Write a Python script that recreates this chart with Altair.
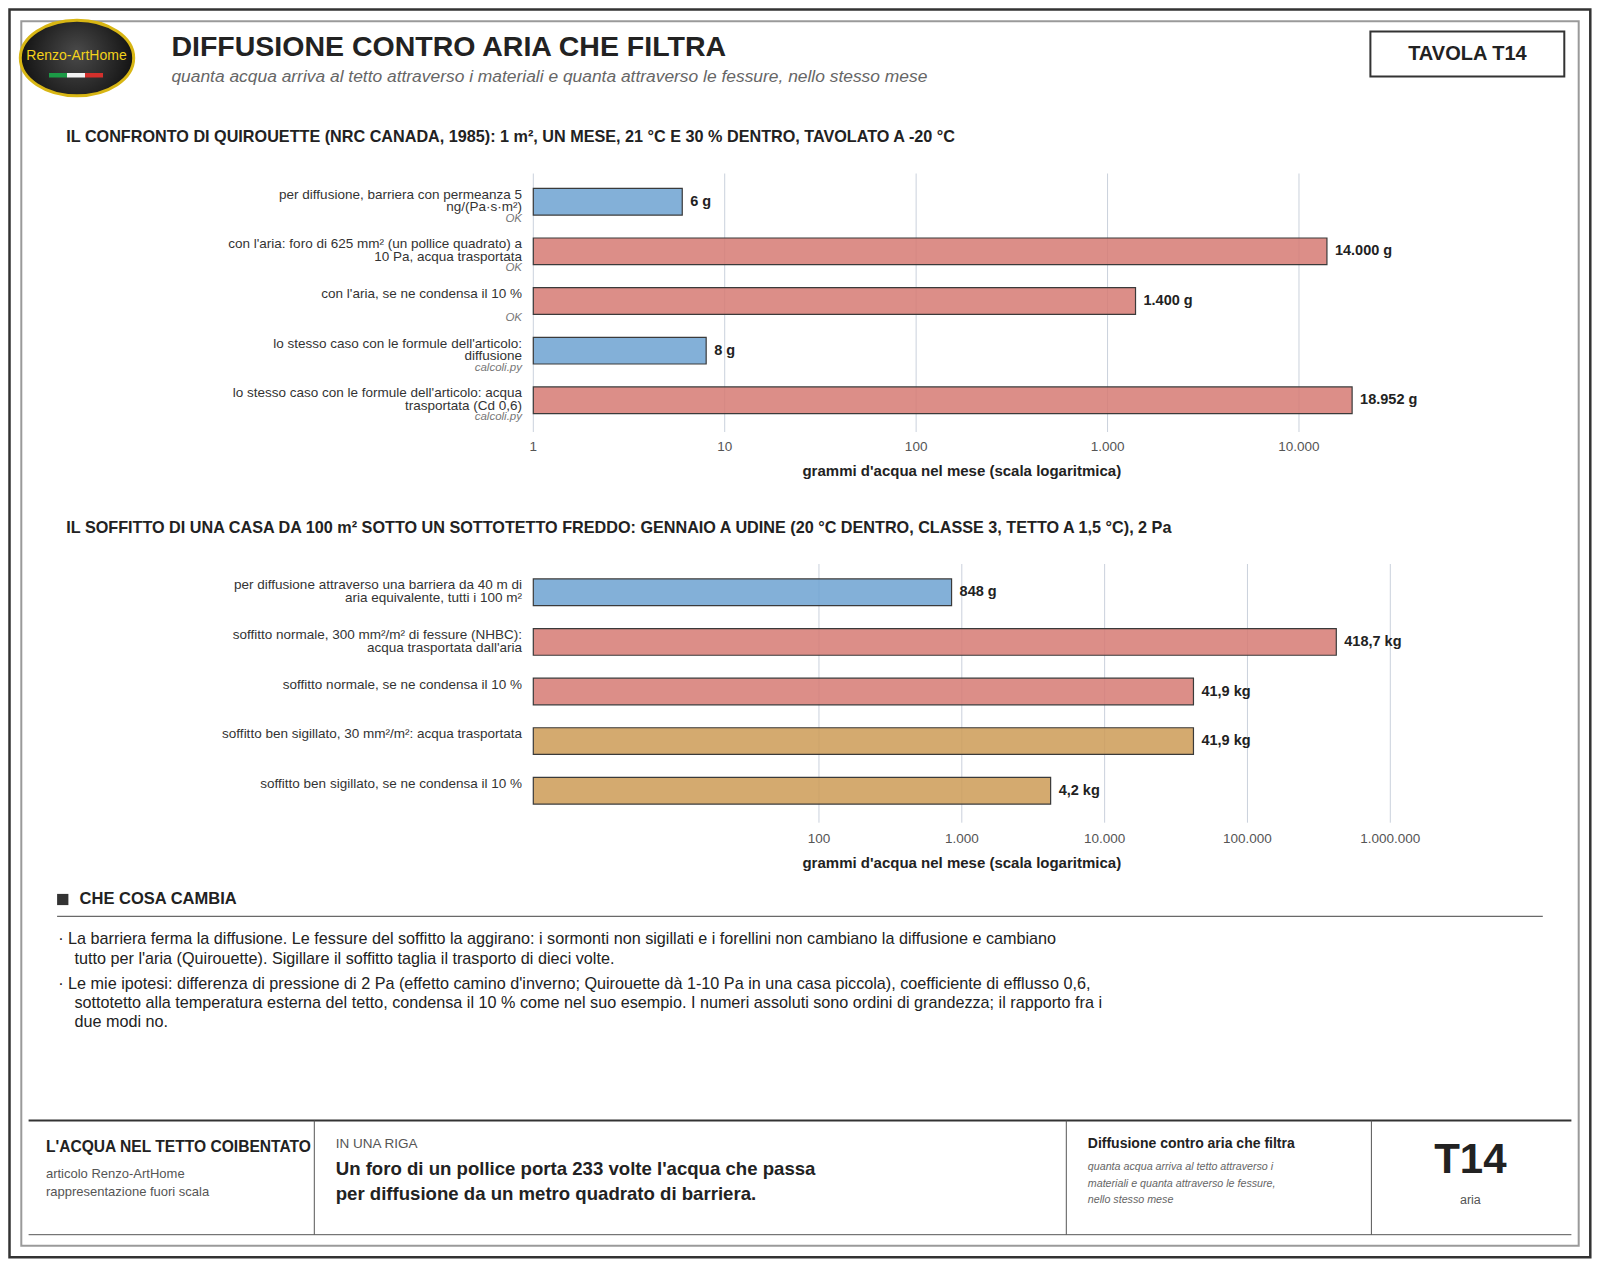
import altair as alt
import pandas as pd

FONT = "Liberation Sans"

# ---------------- data ----------------
p1_ids = ["q1", "q2", "q3", "q4", "q5"]
p1_labels = [
    "per diffusione, barriera con permeanza 5\nng/(Pa·s·m²)",
    "con l'aria: foro di 625 mm² (un pollice quadrato) a\n10 Pa, acqua trasportata",
    "con l'aria, se ne condensa il 10 %",
    "lo stesso caso con le formule dell'articolo:\ndiffusione",
    "lo stesso caso con le formule dell'articolo: acqua\ntrasportata (Cd 0,6)",
]
p1_notes = ["OK", "OK", "OK", "calcoli.py", "calcoli.py"]
p1_values = [6, 14000, 1400, 8, 18952]
p1_value_labels = ["6 g", "14.000 g", "1.400 g", "8 g", "18.952 g"]
p1_kinds = ["diffusione", "aria", "aria", "diffusione", "aria"]
p1_ticks = [1, 10, 100, 1000, 10000]

p2_ids = ["s1", "s2", "s3", "s4", "s5"]
p2_labels = [
    "per diffusione attraverso una barriera da 40 m di\naria equivalente, tutti i 100 m²",
    "soffitto normale, 300 mm²/m² di fessure (NHBC):\nacqua trasportata dall'aria",
    "soffitto normale, se ne condensa il 10 %",
    "soffitto ben sigillato, 30 mm²/m²: acqua trasportata",
    "soffitto ben sigillato, se ne condensa il 10 %",
]
p2_values = [848, 418700, 41870, 41870, 4187]
p2_value_labels = ["848 g", "418,7 kg", "41,9 kg", "41,9 kg", "4,2 kg"]
p2_kinds = ["diffusione", "aria", "aria", "sigillato", "sigillato"]
p2_ticks = [100, 1000, 10000, 100000, 1000000]

kind_domain = ["diffusione", "aria", "sigillato"]
kind_colors = ["#6fa3d2", "#d67b74", "#cd9c57"]

notes_lines = [
    "· La barriera ferma la diffusione. Le fessure del soffitto la aggirano: i sormonti non sigillati e i forellini non cambiano la diffusione e cambiano",
    "tutto per l'aria (Quirouette). Sigillare il soffitto taglia il trasporto di dieci volte.",
    "· Le mie ipotesi: differenza di pressione di 2 Pa (effetto camino d'inverno; Quirouette dà 1-10 Pa in una casa piccola), coefficiente di efflusso 0,6,",
    "sottotetto alla temperatura esterna del tetto, condensa il 10 % come nel suo esempio. I numeri assoluti sono ordini di grandezza; il rapporto fra i",
    "due modi no.",
]

AXIS_TITLE = "grammi d'acqua nel mese (scala logaritmica)"
one = pd.DataFrame({"o": [0]})

W, H = 1584, 1251
X0, X1 = 525.3, 1382.3
GRID = "#cad1dc"
LBL_X = 514


def T(s, x, y, size=13, weight="normal", color="#222", align="left", style="normal", font=FONT, baseline="middle"):
    return alt.Chart(one).mark_text(
        align=align, baseline=baseline, fontSize=size, fontWeight=weight,
        fontStyle=style, color=color, font=font
    ).encode(x=alt.value(x), y=alt.value(y), text=alt.value(s))


def RECT(x1, y1, x2, y2, stroke="#333", sw=1, fill="#ffffff", fo=0):
    return alt.Chart(one).mark_rect(
        stroke=stroke, strokeWidth=sw, fill=fill, fillOpacity=fo
    ).encode(x=alt.value(x1), x2=alt.value(x2), y=alt.value(y1), y2=alt.value(y2))


def FILL(x1, y1, x2, y2, fill):
    return alt.Chart(one).mark_rect(fill=fill, strokeWidth=0).encode(
        x=alt.value(x1), x2=alt.value(x2), y=alt.value(y1), y2=alt.value(y2))


def LINE(x1, y1, x2, y2, color="#333", sw=1):
    return alt.Chart(one).mark_rule(color=color, strokeWidth=sw).encode(
        x=alt.value(x1), x2=alt.value(x2), y=alt.value(y1), y2=alt.value(y2))


def panel(ids, labels, values, vlabels, kinds, ticks, notes, xmax, yrange, gtop, gbot, lab_y, title_y):
    df = pd.DataFrame({"id": ids, "label": labels, "v": values, "vl": vlabels, "kind": kinds})
    if notes is not None:
        df["note"] = notes
    xs = alt.Scale(type="log", domain=[1, xmax], range=[X0, X1], nice=False)
    ys = alt.Scale(domain=ids, range=yrange, paddingInner=0.462, paddingOuter=0.231)
    tick_df = pd.DataFrame({"t": ticks})
    grid = alt.Chart(tick_df).mark_rule(color=GRID, strokeWidth=1).encode(
        x=alt.X("t:Q", scale=xs, axis=None), y=alt.value(gtop), y2=alt.value(gbot))
    tlab = alt.Chart(tick_df).transform_calculate(
        lab="replace(replace(format(datum.t, ','), ',', '.'), ',', '.')"
    ).mark_text(align="center", baseline="middle", fontSize=13.5, font=FONT, color="#555").encode(
        x=alt.X("t:Q", scale=xs, axis=None), y=alt.value(lab_y), text="lab:N")
    ttl = T(AXIS_TITLE, (X0 + X1) / 2, title_y, size=15, weight="bold", align="center")
    base = alt.Chart(df)
    Y = alt.Y("id:N", scale=ys, axis=None, sort=ids)
    bars = base.mark_bar(stroke="#3a3a3a", strokeWidth=1.2, fillOpacity=0.86).encode(
        x=alt.X("v:Q", scale=xs, axis=None), x2=alt.datum(1), y=Y,
        color=alt.Color("kind:N", scale=alt.Scale(domain=kind_domain, range=kind_colors), legend=None))
    lab = base.mark_text(align="right", baseline="top", dy=-14, lineBreak="\n", lineHeight=12.7,
                         fontSize=13.5, font=FONT, color="#333").encode(
        x=alt.value(LBL_X), y=Y, text="label:N")
    val = base.mark_text(align="left", baseline="middle", dx=8, fontSize=14.5, fontWeight="bold",
                         font=FONT, color="#222").encode(
        x=alt.X("v:Q", scale=xs, axis=None), y=Y, text="vl:N")
    layers = [grid, tlab, ttl, bars, lab, val]
    if notes is not None:
        nt = base.mark_text(align="right", baseline="middle", dy=17, fontSize=11.5, fontStyle="italic",
                            font=FONT, color="#777").encode(x=alt.value(LBL_X), y=Y, text="note:N")
        layers.append(nt)
    return alt.layer(*layers)


p1 = panel(p1_ids, p1_labels, p1_values, p1_value_labels, p1_kinds, p1_ticks, p1_notes,
           30000, [168.9, 417.1], 165.5, 424, 438.7, 463)
p2 = panel(p2_ids, p2_labels, p2_values, p2_value_labels, p2_kinds, p2_ticks, None,
           1000000, [559.5, 807.5], 556, 814.7, 831.3, 854.7)

# ---------------- decoration ----------------
deco = []
deco.append(RECT(1.5, 1.5, 1582.3, 1249.3, stroke="#333", sw=2.5))
deco.append(RECT(13.3, 13.3, 1570.7, 1237.7, stroke="#9a9a9a", sw=2))

# logo
ell = "M -1 0 A 1 0.665 0 1 1 1 0 A 1 0.665 0 1 1 -1 0 Z"
grad = {"gradient": "radial", "x1": 0.5, "y1": 0.45, "x2": 0.5, "y2": 0.5, "r1": 0, "r2": 0.6,
        "stops": [{"offset": 0, "color": "#4a4a4a"}, {"offset": 1, "color": "#080808"}]}
deco.append(alt.Chart(one).mark_point(shape=ell, size=113.4 ** 2, filled=True, fill=grad,
                                      stroke="#d8b614", strokeWidth=3, opacity=1).encode(
    x=alt.value(69), y=alt.value(50)))
deco.append(T("Renzo-ArtHome", 68.5, 48, size=14, color="#f3d21a", align="center"))
deco.append(FILL(41, 65, 59, 69.5, "#1c9a46"))
deco.append(FILL(59, 65, 77, 69.5, "#f2f2f2"))
deco.append(FILL(77, 65, 95, 69.5, "#d3302c"))

# header
deco.append(T("DIFFUSIONE CONTRO ARIA CHE FILTRA", 163.4, 48, size=28.5, weight="bold", baseline="alphabetic"))
deco.append(T("quanta acqua arriva al tetto attraverso i materiali e quanta attraverso le fessure, nello stesso mese",
              163.4, 73.5, size=17.4, style="italic", color="#666", baseline="alphabetic"))
deco.append(RECT(1362.4, 23.6, 1556.3, 68.5, stroke="#333", sw=2))
deco.append(T("TAVOLA T14", 1459.4, 46.1, size=20, weight="bold", align="center"))

# section titles
deco.append(T("IL CONFRONTO DI QUIROUETTE (NRC CANADA, 1985): 1 m², UN MESE, 21 °C E 30 % DENTRO, TAVOLATO A -20 °C",
              58.3, 128.7, size=16.2, weight="bold"))
deco.append(T("IL SOFFITTO DI UNA CASA DA 100 m² SOTTO UN SOTTOTETTO FREDDO: GENNAIO A UDINE (20 °C DENTRO, CLASSE 3, TETTO A 1,5 °C), 2 Pa",
              58.3, 519.5, size=16.2, weight="bold"))

# che cosa cambia
deco.append(FILL(49.1, 885.9, 60.4, 897.1, "#333"))
deco.append(T("CHE COSA CAMBIA", 71.6, 891, size=16.5, weight="bold"))
deco.append(LINE(49.1, 908.3, 1534.8, 908.3, color="#444", sw=1))
line_pos = [(50.2, 930.8), (66.5, 951.2), (50.2, 975.7), (66.5, 995.1), (66.5, 1014.4)]
for s, (x, y) in zip(notes_lines, line_pos):
    deco.append(T(s, x, y, size=16.2, color="#222"))

# footer
deco.append(LINE(20.6, 1112.4, 1563.4, 1112.4, color="#333", sw=2))
deco.append(LINE(20.6, 1226.7, 1563.4, 1226.7, color="#555", sw=1))
for xs_ in [306.3, 1058.3, 1363.4]:
    deco.append(LINE(xs_, 1112.4, xs_, 1226.7, color="#555", sw=1))
deco.append(T("L'ACQUA NEL TETTO COIBENTATO", 37.9, 1139, size=15.6, weight="bold"))
deco.append(T("articolo Renzo-ArtHome", 37.9, 1165.5, size=13, color="#555"))
deco.append(T("rappresentazione fuori scala", 37.9, 1183.9, size=13, color="#555"))
deco.append(T("IN UNA RIGA", 327.7, 1135.9, size=13.5, color="#555"))
deco.append(T("Un foro di un pollice porta 233 volte l'acqua che passa", 327.7, 1161.4, size=18.6, weight="bold"))
deco.append(T("per diffusione da un metro quadrato di barriera.", 327.7, 1185.9, size=18.6, weight="bold"))
deco.append(T("Diffusione contro aria che filtra", 1079.8, 1135.9, size=14, weight="bold"))
deco.append(T("quanta acqua arriva al tetto attraverso i", 1079.8, 1159.3, size=10.7, style="italic", color="#666"))
deco.append(T("materiali e quanta attraverso le fessure,", 1079.8, 1175.7, size=10.7, style="italic", color="#666"))
deco.append(T("nello stesso mese", 1079.8, 1192, size=10.7, style="italic", color="#666"))
deco.append(T("T14", 1462.4, 1152.2, size=42, weight="bold", align="center"))
deco.append(T("aria", 1462.4, 1192, size=12.5, color="#555", align="center"))

chart = alt.layer(*deco, p1, p2).resolve_scale(
    x="independent", y="independent"
).properties(
    width=W, height=H, autosize=alt.AutoSizeParams(type="none"), padding=0, background="#ffffff"
).configure_view(strokeWidth=0)

chart.save("out.html", embed_options={"renderer": "svg", "actions": False})
